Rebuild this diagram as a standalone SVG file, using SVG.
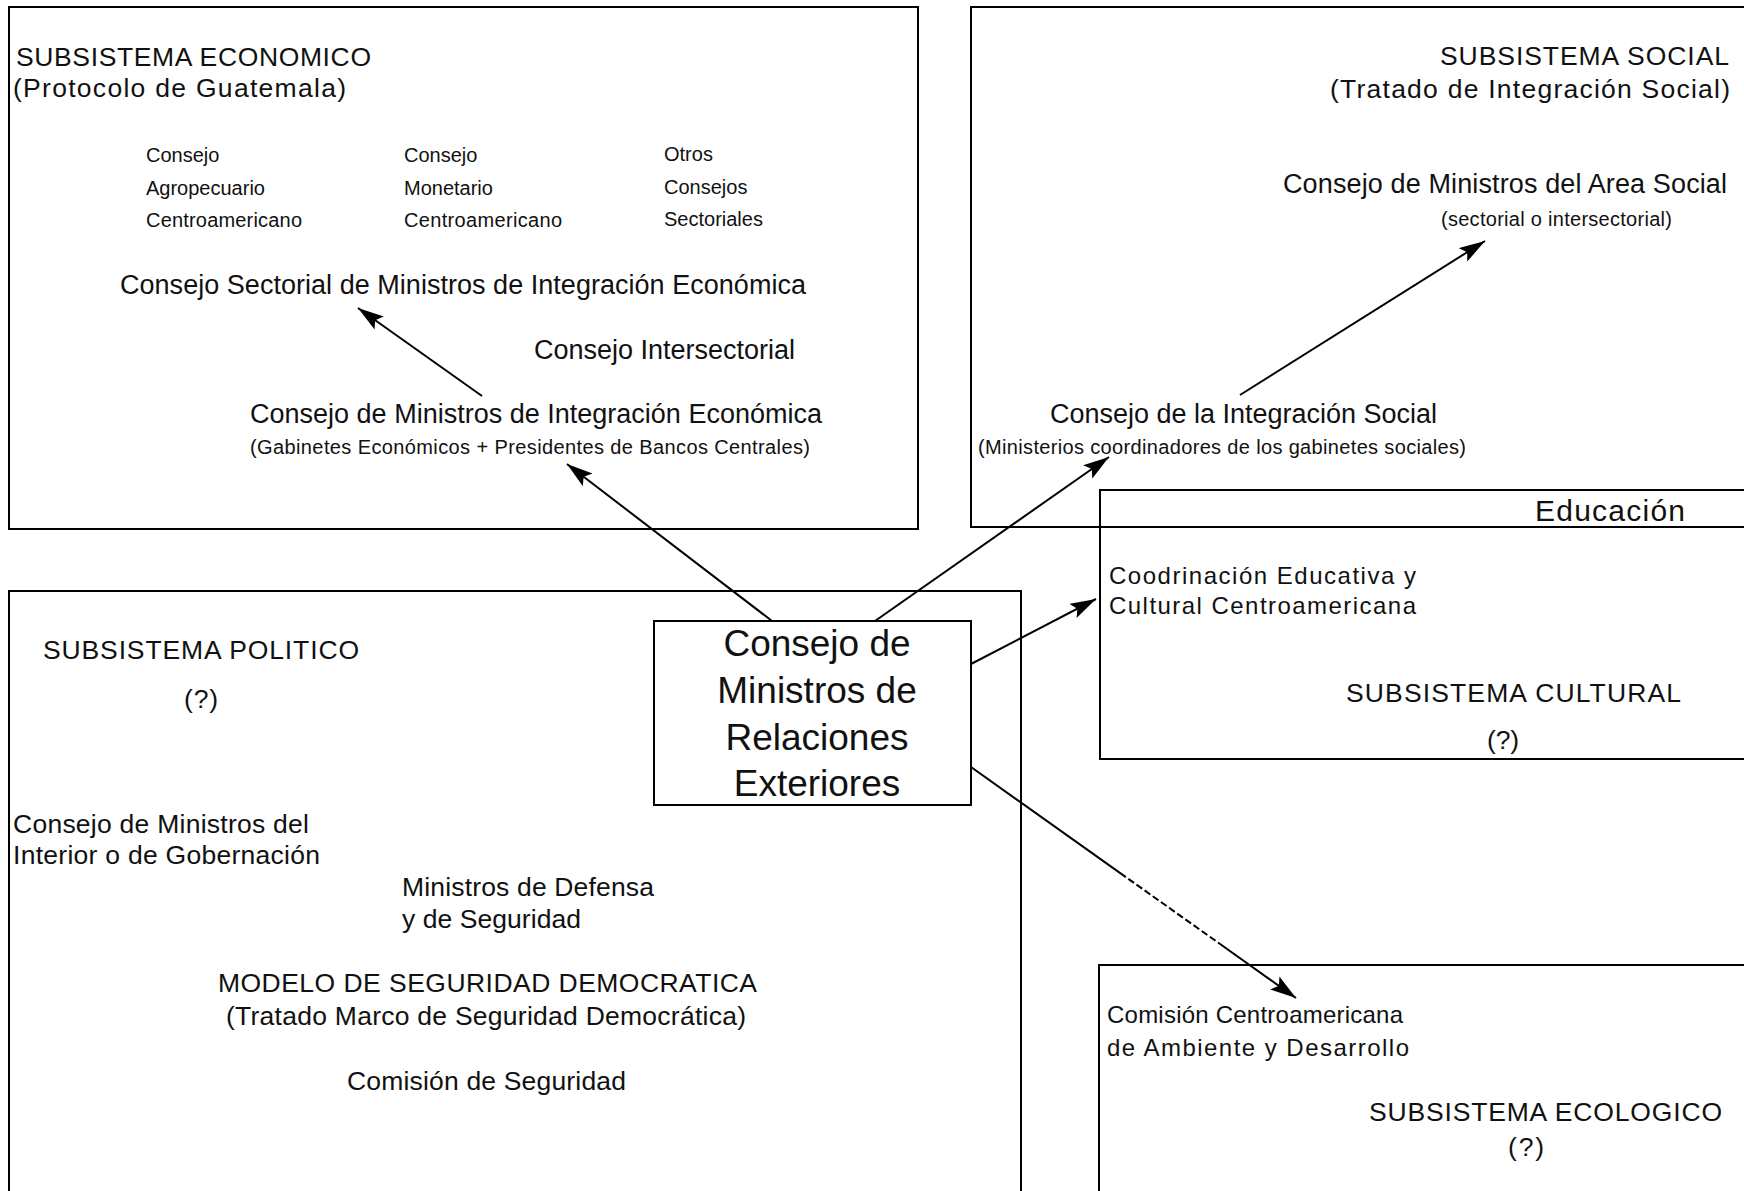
<svg xmlns="http://www.w3.org/2000/svg" width="1744" height="1191" viewBox="0 0 1744 1191">
<style>
.box{fill:none;stroke:#000;stroke-width:2}
.cb{fill:#fff;stroke:#000;stroke-width:2}
text{font-family:"Liberation Sans",Arial,sans-serif;fill:#111}
.h{font-size:26.5px}
.e{font-size:24px}
.m{font-size:27px}
.s{font-size:20px}
.xs{font-size:20px}
.c{font-size:37px;text-anchor:middle}
.con{stroke:#000;stroke-width:2;fill:none}
</style>
<defs>
<marker id="ah" markerUnits="userSpaceOnUse" markerWidth="30" markerHeight="20" refX="26" refY="8" orient="auto">
<path d="M0,0 L26,8 L0,16 L5,8 Z" fill="#000"/>
</marker>
</defs>

<g id="economico">
<rect class="box" x="9" y="7" width="909" height="522"/>
<text class="h" x="16" y="66" textLength="355">SUBSISTEMA ECONOMICO</text>
<text class="h" x="13" y="97" textLength="333">(Protocolo de Guatemala)</text>
<text class="s" x="146" y="162">Consejo</text>
<text class="s" x="146" y="195">Agropecuario</text>
<text class="s" x="146" y="227" textLength="156">Centroamericano</text>
<text class="s" x="404" y="162">Consejo</text>
<text class="s" x="404" y="195">Monetario</text>
<text class="s" x="404" y="227" textLength="158">Centroamericano</text>
<text class="s" x="664" y="161">Otros</text>
<text class="s" x="664" y="194">Consejos</text>
<text class="s" x="664" y="226">Sectoriales</text>
<text class="m" x="120" y="294" textLength="686">Consejo Sectorial de Ministros de Integración Económica</text>
<text class="m" x="534" y="359" textLength="261">Consejo Intersectorial</text>
<text class="m" x="250" y="423" textLength="572">Consejo de Ministros de Integración Económica</text>
<text class="xs" x="250" y="454" textLength="560">(Gabinetes Económicos + Presidentes de Bancos Centrales)</text>
</g>

<g id="social">
<rect class="box" x="971" y="7" width="790" height="520"/>
<text class="h" x="1440" y="65" textLength="289">SUBSISTEMA SOCIAL</text>
<text class="h" x="1330" y="98" textLength="400">(Tratado de Integración Social)</text>
<text class="m" x="1283" y="193" textLength="444">Consejo de Ministros del Area Social</text>
<text class="xs" x="1441" y="226" textLength="231">(sectorial o intersectorial)</text>
<text class="m" x="1050" y="423" textLength="387">Consejo de la Integración Social</text>
<text class="xs" x="978" y="454" textLength="488">(Ministerios coordinadores de los gabinetes sociales)</text>
</g>

<g id="cultural">
<rect class="box" x="1100" y="490" width="660" height="269"/>
<text x="1535" y="521" style="font-size:30px" textLength="150">Educación</text>
<text class="e" x="1109" y="584" textLength="307">Coodrinación Educativa y</text>
<text class="e" x="1109" y="614" textLength="307">Cultural Centroamericana</text>
<text class="h" x="1346" y="702" textLength="335">SUBSISTEMA CULTURAL</text>
<text class="h" x="1487" y="749" textLength="32">(?)</text>
</g>

<g id="politico">
<rect class="box" x="9" y="591" width="1012" height="620"/>
<text class="h" x="43" y="659" textLength="316">SUBSISTEMA POLITICO</text>
<text class="h" x="184" y="708" textLength="34">(?)</text>
<text class="h" x="13" y="833" textLength="296">Consejo de Ministros del</text>
<text class="h" x="13" y="864" textLength="307">Interior o de Gobernación</text>
<text class="h" x="402" y="896" textLength="252">Ministros de Defensa</text>
<text class="h" x="402" y="928" textLength="179">y de Seguridad</text>
<text class="h" x="218" y="992" textLength="539">MODELO DE SEGURIDAD DEMOCRATICA</text>
<text class="h" x="226" y="1025" textLength="520">(Tratado Marco de Seguridad Democrática)</text>
<text class="h" x="347" y="1090" textLength="279">Comisión de Seguridad</text>
</g>

<g id="ecologico">
<rect class="box" x="1099" y="965" width="660" height="260"/>
<text class="e" x="1107" y="1023" textLength="296">Comisión Centroamericana</text>
<text class="e" x="1107" y="1056" textLength="302">de Ambiente y Desarrollo</text>
<text class="h" x="1369" y="1121" textLength="353">SUBSISTEMA ECOLOGICO</text>
<text class="h" x="1508" y="1156" textLength="36">(?)</text>
</g>

<g id="relaciones">
<rect class="cb" x="654" y="621" width="317" height="184"/>
<text class="c" x="817" y="656">Consejo de</text>
<text class="c" x="817" y="703">Ministros de</text>
<text class="c" x="817" y="750">Relaciones</text>
<text class="c" x="817" y="796">Exteriores</text>
</g>

<g id="connectors">
<line class="con" x1="482" y1="396" x2="358" y2="308" marker-end="url(#ah)"/>
<line class="con" x1="772" y1="621" x2="567" y2="464" marker-end="url(#ah)"/>
<line class="con" x1="875" y1="621" x2="1109" y2="457" marker-end="url(#ah)"/>
<line class="con" x1="1240" y1="395" x2="1485" y2="241" marker-end="url(#ah)"/>
<line class="con" x1="971" y1="664" x2="1096" y2="599" marker-end="url(#ah)"/>
<line class="con" x1="971" y1="767" x2="1296" y2="998" stroke-dasharray="190 3 7 3 7 3 7 3 7 3 7 3 7 3 7 3 7 3 7 3 7 3 7 3 200" marker-end="url(#ah)"/>
</g>
</svg>
